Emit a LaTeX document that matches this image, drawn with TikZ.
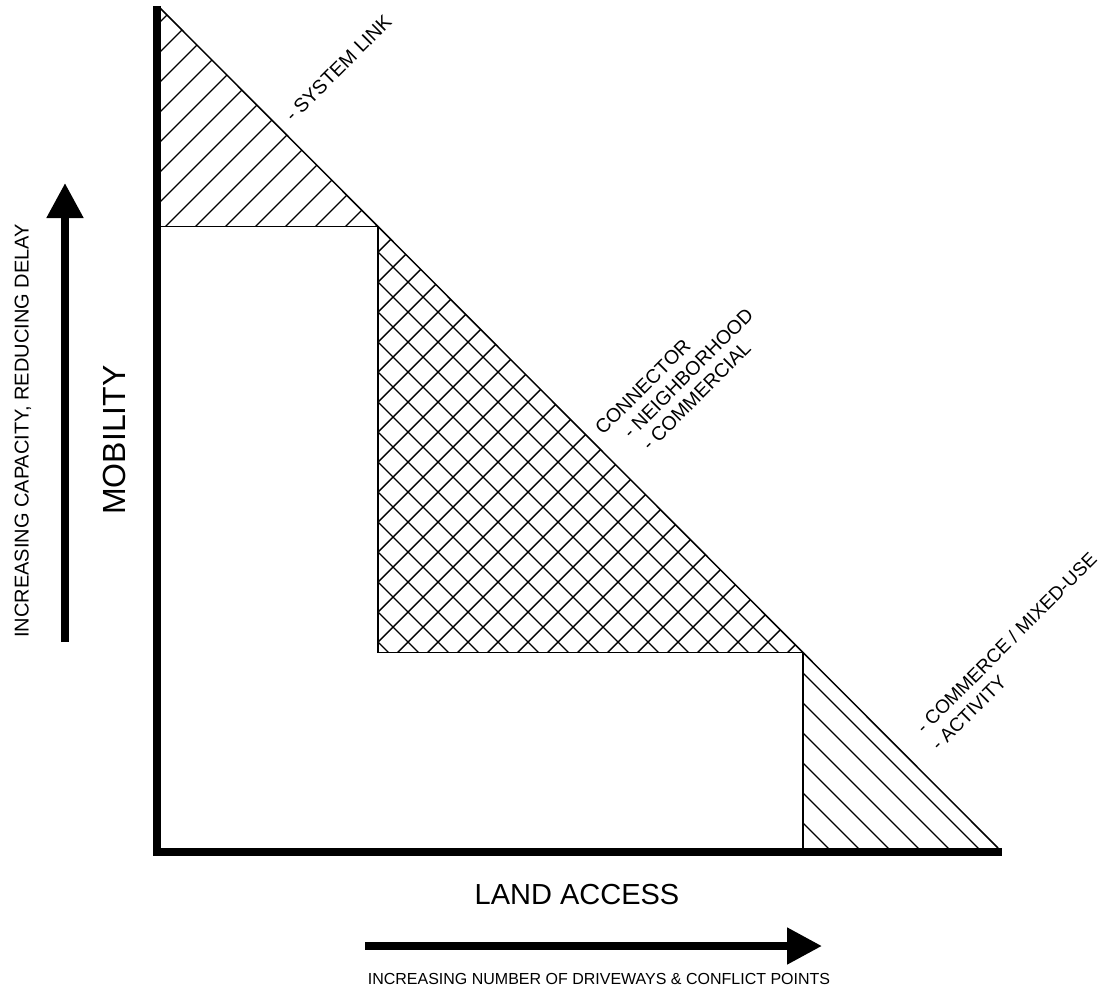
\documentclass[tikz,border=0pt]{standalone}
\usepackage{fontspec}
\setmainfont{Liberation Sans}
\usepackage{tikz}
\usetikzlibrary{arrows.meta}
\tikzstyle{myaxis} = [line width=8pt, line cap=butt, line join=miter]
\tikzstyle{myline} = [line width=1.5pt, line join=miter]
\tikzstyle{myhatch} = [line width=1.4pt]
\tikzstyle{myarrow} = [line width=8pt, -{Triangle[length=35pt, width=35pt]}]
\tikzstyle{mylabel} = [inner sep=0pt, font=\fontsize{19.5}{22}\selectfont]
\tikzstyle{mytitle} = [inner sep=0pt, font=\fontsize{29}{32}\selectfont]

\begin{document}
\begin{tikzpicture}[x=1pt, y=-1pt]
    \useasboundingbox (0,0) rectangle (1104,997);
    % corners of the diagram
    \coordinate (top) at (160,8);
    \coordinate (foot) at (998,848);
    \coordinate (upper) at (378,226.5);
    \coordinate (lower) at (803,652.5);

    % hatching: system link
    \begin{scope}
        \clip (top) -- (upper) -- (157,226.5) -- cycle;
        \foreach \c in {182,212,...,632}
            \draw[myhatch] (\c,0) -- ({\c-260},260);
    \end{scope}
    % hatching: connector
    \begin{scope}
        \clip (upper) -- (lower) -- (378,652.5) -- cycle;
        \foreach \c in {600,630,...,1470}
            \draw[myhatch] ({\c-150},150) -- ({\c-750},750);
        \foreach \c in {126,96,...,-300}
            \draw[myhatch] ({\c+150},150) -- ({\c+750},750);
    \end{scope}
    % hatching: commerce
    \begin{scope}
        \clip (lower) -- (foot) -- (803,852) -- cycle;
        \foreach \c in {130,100,...,-60}
            \draw[myhatch] ({\c+600},600) -- ({\c+900},900);
    \end{scope}

    % outlines
    \draw[myline] (top) -- (foot);
    \draw[myline] (157,226.5) -- (upper) -- (378,652.5) -- (lower) -- (803,852);
    \draw[myaxis] (157,6) -- (157,852) -- (1002,852);

    % arrows
    \coordinate (upfrom) at (65,642);
    \coordinate (upto) at (65,183);
    \draw[myarrow] (upfrom) -- (upto);
    \coordinate (rightfrom) at (365,946);
    \coordinate (rightto) at (822,946);
    \draw[myarrow] (rightfrom) -- (rightto);

    % axis labels
    \node[mytitle, rotate=90, font=\fontsize{32}{36}\selectfont] (mobility) at (114,440) {MOBILITY};
    \node[mylabel, rotate=90, font=\fontsize{20}{22}\selectfont] (capacity) at (23,431) {INCREASING CAPACITY, REDUCING DELAY};
    \node[mytitle] (access) at (577,895) {LAND ACCESS};
    \node[mylabel, font=\fontsize{16}{18}\selectfont] (driveways) at (599,979) {INCREASING NUMBER OF DRIVEWAYS \& CONFLICT POINTS};

    % class labels
    \node[mylabel, rotate=45, anchor=base west] (system) at (293,123) {- SYSTEM LINK};
    \node[mylabel, rotate=45, anchor=base west] (conn1) at (603,436) {CONNECTOR};
    \node[mylabel, rotate=45, anchor=base west] (conn2) at (631,440) {- NEIGHBORHOOD};
    \node[mylabel, rotate=45, anchor=base west] (conn3) at (650,452) {- COMMERCIAL};
    \node[mylabel, rotate=45, anchor=base west, font=\fontsize{19}{22}\selectfont] (comm1) at (924,735) {- COMMERCE / MIXED-USE};
    \node[mylabel, rotate=45, anchor=base west, font=\fontsize{19}{22}\selectfont] (comm2) at (939,752) {- ACTIVITY};
\end{tikzpicture}
\end{document}
